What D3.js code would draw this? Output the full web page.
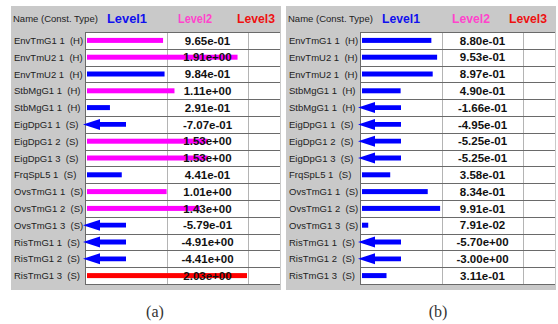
<!DOCTYPE html>
<html>
<head>
<meta charset="utf-8">
<script src="https://cdn.jsdelivr.net/npm/d3@7"></script>
<style>
  html, body { margin: 0; padding: 0; background: #fff; }
  svg { display: block; }
</style>
</head>
<body>
<svg id="chart" width="558" height="324"></svg>
<script>
// Constraint names (rows shared by both tables)
const names = [
  "EnvTmG1 1  (H)", "EnvTmU2 1  (H)", "EnvTmU2 1  (H)", "StbMgG1 1  (H)", "StbMgG1 1  (H)",
  "EigDpG1 1  (S)", "EigDpG1 2  (S)", "EigDpG1 3  (S)", "FrqSpL5 1  (S)", "OvsTmG1 1  (S)",
  "OvsTmG1 2  (S)", "OvsTmG1 3  (S)", "RisTmG1 1  (S)", "RisTmG1 2  (S)", "RisTmG1 3  (S)"
];

// Case (a): values and severity level per row
const valuesA = [0.965, 1.91, 0.984, 1.11, 0.291, -0.707, 1.53, 1.53, 0.441, 1.01, 1.43, -0.579, -4.91, -4.41, 2.03];
const levelsA = [2, 2, 1, 2, 1, 1, 2, 2, 1, 2, 2, 1, 1, 1, 3];

// Case (b): values and severity level per row
const valuesB = [0.880, 0.953, 0.897, 0.490, -0.166, -0.495, -0.525, -0.525, 0.358, 0.834, 0.991, 0.0791, -5.70, -3.00, 0.311];
const levelsB = [1, 1, 1, 1, 1, 1, 1, 1, 1, 1, 1, 1, 1, 1, 1];

const levelNames = ["Level1", "Level2", "Level3"];
const captions = ["(a)", "(b)"];

const SANS = "'Liberation Sans', Arial, sans-serif";
const SERIF = "'Liberation Serif', 'DejaVu Serif', serif";

const levelColor = d3.scaleOrdinal().domain([1, 2, 3]).range(["#0000ff", "#ff00ff", "#ff0000"]);
const headerColor = d3.scaleOrdinal().domain(levelNames).range(["#1010ee", "#ff44cc", "#ee1111"]);

// Scientific notation with a two-digit exponent, e.g. 9.65e-01
function sci(v) {
  const [m, e] = v.toExponential(2).split("e");
  return m + "e" + e[0] + e.slice(1).padStart(2, "0");
}

const svg = d3.select("#chart").style("font-family", SANS);

const rowTop = 32, rowH = 16.8;
const barColW = 82, valColW = 81, lvlColW = 32;

function drawPanel(cfg) {
  const { x0, values, levels, caption, headerX, headerWidths } = cfg;
  const g = svg.append("g").attr("transform", `translate(${x0},0)`);

  // gray panel
  g.append("rect").attr("x", 0).attr("y", 6).attr("width", 270).attr("height", 284).attr("fill", "#c9c9c9");

  const tx = 74; // table left edge (panel coords)
  const y = d3.scaleBand().domain(d3.range(names.length)).range([rowTop, rowTop + rowH * names.length]);
  const x = d3.scaleLinear().domain([0, 2.03]).range([0, 160]);

  const tableW = barColW + valColW + lvlColW;

  // header
  g.append("text").attr("x", 2).attr("y", 22).attr("font-size", 9.5).attr("fill", "#222")
    .text("Name (Const. Type)");
  levelNames.forEach((n, i) => {
    g.append("text").attr("x", tx + headerX[i]).attr("y", 22.5)
      .attr("font-size", 12.5).attr("font-weight", "bold")
      .attr("fill", headerColor(n))
      .attr("textLength", headerWidths[i]).attr("lengthAdjust", "spacingAndGlyphs")
      .text(n);
  });

  // row labels
  g.selectAll("text.lbl").data(names).join("text").attr("class", "lbl")
    .attr("x", 3).attr("y", (d, i) => y(i) + rowH / 2 + 3.5)
    .attr("font-size", 9.5).attr("fill", "#222").style("white-space", "pre")
    .text(d => d);

  // table body
  g.append("rect").attr("x", tx).attr("y", rowTop).attr("width", tableW).attr("height", rowH * names.length)
    .attr("fill", "#fff");
  [tx + barColW, tx + barColW + valColW].forEach(cx => {
    g.append("line").attr("x1", cx + 0.5).attr("x2", cx + 0.5)
      .attr("y1", rowTop).attr("y2", rowTop + rowH * names.length)
      .attr("stroke", "#b4b4b4").attr("stroke-width", 1);
  });
  g.selectAll("line.row").data(d3.range(names.length + 1)).join("line").attr("class", "row")
    .attr("x1", tx).attr("x2", tx + tableW)
    .attr("y1", i => Math.round(rowTop + i * rowH) + 0.5).attr("y2", i => Math.round(rowTop + i * rowH) + 0.5)
    .attr("stroke", "#6a6a6a").attr("stroke-width", 1);
  g.append("line").attr("x1", tx + 0.5).attr("x2", tx + 0.5)
    .attr("y1", rowTop).attr("y2", rowTop + rowH * names.length)
    .attr("stroke", "#6a6a6a");

  const rows = values.map((v, i) => ({ v, lvl: levels[i], i }));
  const bx = tx + 2;

  // positive values: bars
  g.selectAll("rect.bar").data(rows.filter(d => d.v >= 0)).join("rect").attr("class", "bar")
    .attr("x", bx).attr("y", d => y(d.i) + rowH / 2 - 2.5)
    .attr("width", d => Math.max(3, x(d.v))).attr("height", 5)
    .attr("fill", d => levelColor(d.lvl));

  // negative values: left-pointing arrows
  const arrow = d3.line()([[-2, 0], [15, -5.5], [15, -2.4], [41, -2.4], [41, 2.4], [15, 2.4], [15, 5.5]]) + "Z";
  g.selectAll("path.arrow").data(rows.filter(d => d.v < 0)).join("path").attr("class", "arrow")
    .attr("transform", d => `translate(${tx},${y(d.i) + rowH / 2})`)
    .attr("d", arrow).attr("fill", d => levelColor(d.lvl));

  // value labels
  g.selectAll("text.val").data(rows).join("text").attr("class", "val")
    .attr("x", tx + barColW + valColW / 2).attr("y", d => y(d.i) + rowH / 2 + 4.2)
    .attr("text-anchor", "middle").attr("font-size", 11.5).attr("font-weight", "bold").attr("fill", "#111")
    .text(d => sci(d.v));

  // caption
  svg.append("text").attr("x", x0 + cfg.capX).attr("y", 317).attr("text-anchor", "middle")
    .style("font-family", SERIF).attr("font-size", 16).attr("fill", "#333")
    .text(caption);
}

drawPanel({ x0: 11, values: valuesA, levels: levelsA, caption: captions[0], capX: 144,
  headerX: [22, 93, 152], headerWidths: [40, 34, 38] });
drawPanel({ x0: 286, values: valuesB, levels: levelsB, caption: captions[1], capX: 152,
  headerX: [22, 92, 149], headerWidths: [38, 38, 38] });
</script>
</body>
</html>
